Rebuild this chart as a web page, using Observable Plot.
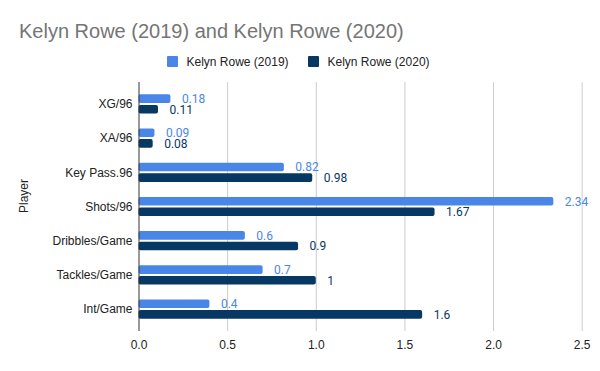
<!DOCTYPE html>
<html>
<head>
<meta charset="utf-8">
<script src="https://cdn.jsdelivr.net/npm/d3@7"></script>
<script src="https://cdn.jsdelivr.net/npm/@observablehq/plot@0.6"></script>
<style>
  body { margin: 0; background: #fff; }
  #wrap { position: relative; width: 600px; height: 371px; overflow: hidden; font-family: "Liberation Sans", Arial, sans-serif; background: #fff; }
  #header { position: relative; width: 600px; height: 76px; }
  #title { position: absolute; left: 19px; top: 21px; font-size: 20px; line-height: 20px; color: #757575; white-space: nowrap; }
  .sw { position: absolute; top: 56px; width: 11px; height: 11px; border-radius: 1px; }
  .lt { position: absolute; top: 56px; font-size: 12px; line-height: 12px; color: #222; white-space: nowrap; }
  #chart svg { display: block; }
</style>
</head>
<body>
<div id="wrap">
  <div id="header"></div>
  <div id="chart"></div>
</div>
<script>
const titleText = "Kelyn Rowe (2019) and Kelyn Rowe (2020)";
const seriesNames = ["Kelyn Rowe (2019)", "Kelyn Rowe (2020)"];
const seriesColors = ["#4a86e8", "#073763"];
const categories = ["XG/96", "XA/96", "Key Pass.96", "Shots/96", "Dribbles/Game", "Tackles/Game", "Int/Game"];
const values2019 = [0.18, 0.09, 0.82, 2.34, 0.6, 0.7, 0.4];
const values2020 = [0.11, 0.08, 0.98, 1.67, 0.9, 1, 1.6];
const xTicks = [0, 0.5, 1, 1.5, 2, 2.5];
const yLabel = "Player";

// header: title + legend
const header = document.getElementById("header");
const t = document.createElement("div");
t.id = "title"; t.textContent = titleText; header.appendChild(t);
const swLeft = [167, 308];
const txtLeft = [186.5, 327.5];
seriesNames.forEach((name, i) => {
  const s = document.createElement("div");
  s.className = "sw"; s.style.left = swLeft[i] + "px"; s.style.background = seriesColors[i];
  header.appendChild(s);
  const l = document.createElement("div");
  l.className = "lt"; l.style.left = txtLeft[i] + "px"; l.textContent = name;
  header.appendChild(l);
});

const d19 = categories.map((c, i) => ({category: c, value: values2019[i]}));
const d20 = categories.map((c, i) => ({category: c, value: values2020[i]}));

const chart = Plot.plot({
  width: 600,
  height: 295,
  marginTop: 6,
  marginBottom: 40,
  marginLeft: 138.5,
  marginRight: 18.3,
  style: {fontFamily: "'Liberation Sans', Arial, sans-serif", fontSize: "12px", color: "#222", background: "#fff", overflow: "visible"},
  x: {domain: [0, 2.5], ticks: xTicks, tickFormat: d3.format(".1f"), tickSize: 0, tickPadding: 9, label: null},
  y: {domain: categories, paddingInner: 0, paddingOuter: 0.14, round: false, tickSize: 0, tickPadding: 6.5, label: null},
  marks: [
    Plot.ruleX(xTicks.filter(v => v > 0), {stroke: "#cccccc", strokeWidth: 1}),
    Plot.barX(d19, {x: "value", y: "category", fill: seriesColors[0], insetTop: 7.5, insetBottom: 18.1, rx: 2}),
    Plot.barX(d20, {x: "value", y: "category", fill: seriesColors[1], insetTop: 18.1, insetBottom: 7.5, rx: 2}),
    Plot.ruleX([0], {stroke: "#333333", strokeWidth: 1}),
    Plot.text(d19, {x: "value", y: "category", text: d => String(d.value), dx: 11, dy: -5.3, textAnchor: "start", fill: seriesColors[0], fontFamily: "Roboto", fontSize: 12}),
    Plot.text(d20, {x: "value", y: "category", text: d => String(d.value), dx: 11, dy: 5.3, textAnchor: "start", fill: seriesColors[1], fontFamily: "Roboto", fontSize: 12}),
    Plot.text([yLabel], {text: d => d, frameAnchor: "left", dx: -115, dy: 6, rotate: -90, fontSize: 12, fill: "#222"})
  ]
});
document.getElementById("chart").appendChild(chart);
</script>
</body>
</html>
